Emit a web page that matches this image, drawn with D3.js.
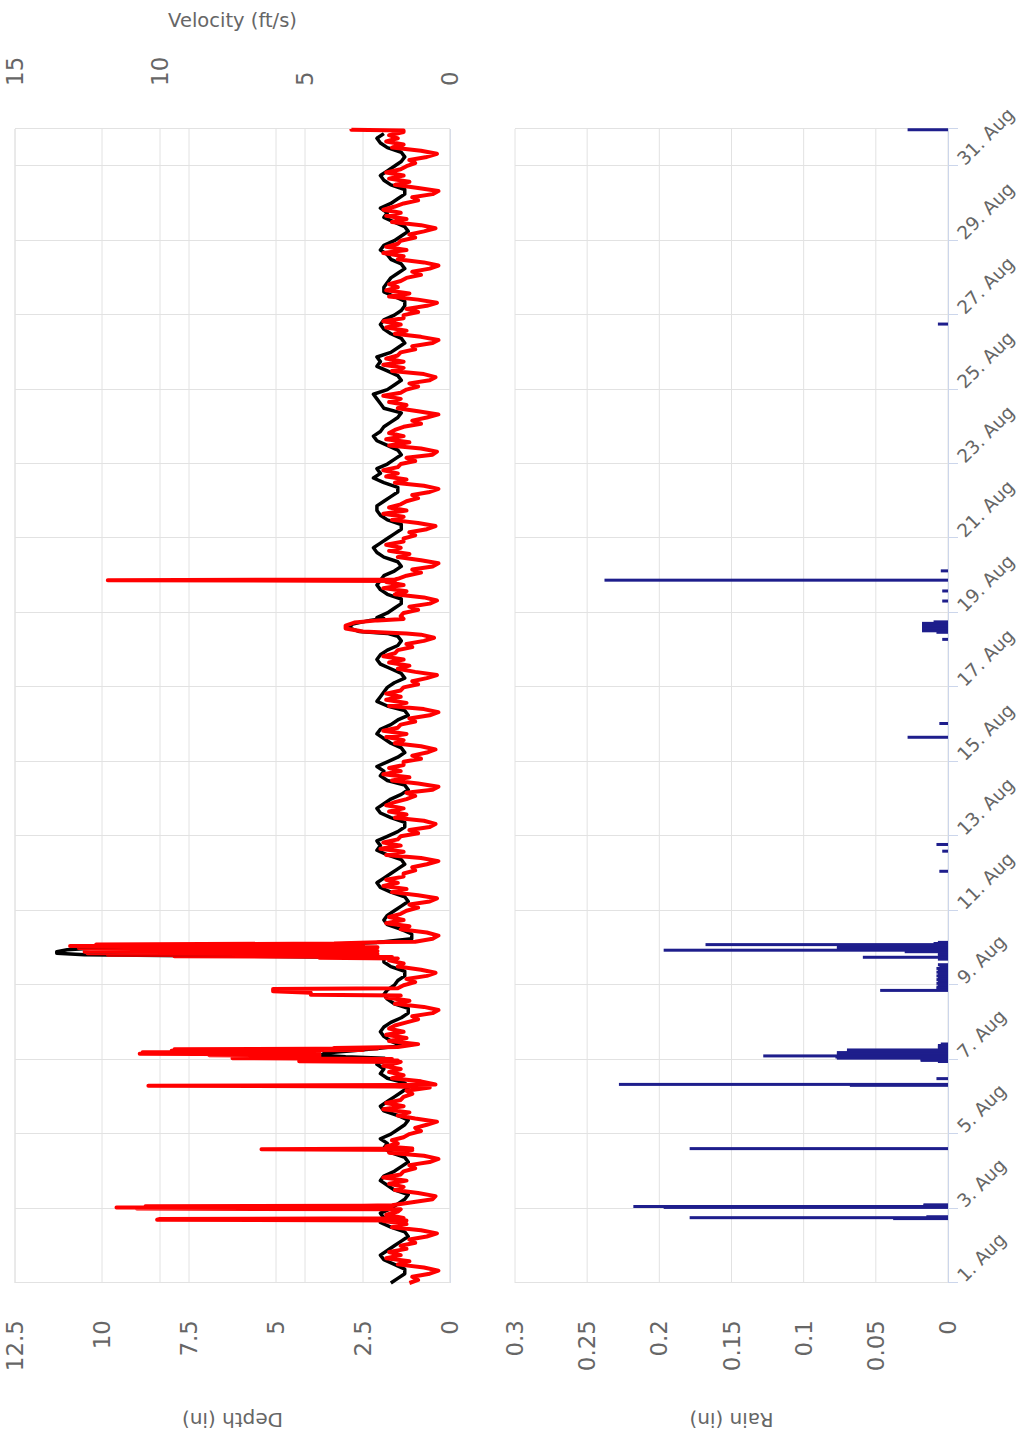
<!DOCTYPE html>
<html>
<head>
<meta charset="utf-8">
<script src="https://cdn.jsdelivr.net/npm/d3@7/dist/d3.min.js"></script>
<style>
  html, body { margin: 0; padding: 0; background: #fff; }
  svg { display: block; }
  text { font-family: "DejaVu Sans", sans-serif; fill: #666; }
</style>
</head>
<body>
<script>
// ---------------- DATA ----------------
// Time is in days since 1 Aug 00:00.
const dateTickDays = [1, 3, 5, 7, 9, 11, 13, 15, 17, 19, 21, 23, 25, 27, 29, 31];
const dateTickLabels = dateTickDays.map(d => d + ". Aug");
const depthTicks = [0, 2.5, 5, 7.5, 10, 12.5];
const velocityTicks = [0, 5, 10, 15];
const rainTicks = [0, 0.05, 0.1, 0.15, 0.2, 0.25, 0.3];
const rainTickLabels = ["0", "0.05", "0.1", "0.15", "0.2", "0.25", "0.3"];

// Depth (in), black line: 8 readings per day (every 3 h)
const depthByDay = [
  [1.7, 1.5, 1.3, 1.3, 1.6, 1.9, 2.0, 1.8],
  [1.6, 1.4, 1.2, 1.3, 1.7, 2.0, 1.9, 2.0],
  [1.7, 1.5, 1.3, 1.2, 1.6, 1.8, 2.0, 1.9],
  [1.6, 1.4, 1.2, 1.3, 1.7, 1.9, 1.8, 2.0],
  [1.7, 1.5, 1.3, 1.2, 1.5, 1.9, 2.0, 1.8],
  [1.6, 1.4, 1.2, 1.3, 1.8, 2.0, 1.9, 2.1],
  [1.8, 1.5, 1.3, 1.4, 1.7, 1.9, 2.0, 1.9],
  [1.7, 1.4, 1.2, 1.2, 1.6, 1.8, 1.9, 1.8],
  [1.6, 1.5, 1.3, 1.3, 1.7, 1.9, 2.0, 2.0],
  [1.7, 1.4, 1.1, 1.1, 1.4, 1.8, 1.9, 1.8],
  [1.6, 1.4, 1.2, 1.3, 1.7, 2.0, 2.1, 1.9],
  [1.7, 1.5, 1.3, 1.4, 1.8, 2.1, 2.0, 2.1],
  [1.8, 1.5, 1.3, 1.3, 1.7, 2.0, 2.1, 1.9],
  [1.7, 1.4, 1.2, 1.3, 1.8, 2.0, 1.9, 2.1],
  [1.8, 1.5, 1.3, 1.4, 1.7, 1.9, 2.1, 2.0],
  [1.7, 1.5, 1.2, 1.3, 1.8, 2.1, 2.0, 1.9],
  [1.8, 1.6, 1.3, 1.4, 1.7, 2.0, 2.1, 2.0],
  [1.8, 1.5, 1.4, 1.5, 1.9, 2.1, 2.0, 2.1],
  [1.8, 1.6, 1.4, 1.4, 1.8, 2.0, 2.1, 2.0],
  [1.9, 1.6, 1.4, 1.5, 1.9, 2.1, 2.2, 2.0],
  [1.8, 1.6, 1.4, 1.4, 1.8, 2.0, 2.1, 2.1],
  [1.9, 1.7, 1.5, 1.5, 1.9, 2.2, 2.0, 2.1],
  [1.8, 1.6, 1.4, 1.5, 1.8, 2.1, 2.2, 2.0],
  [1.9, 1.7, 1.5, 1.4, 1.9, 2.0, 2.1, 2.2],
  [1.8, 1.6, 1.4, 1.5, 1.8, 2.1, 2.0, 2.1],
  [1.7, 1.5, 1.3, 1.4, 1.7, 1.9, 2.0, 1.9],
  [1.6, 1.4, 1.3, 1.3, 1.6, 1.9, 1.9, 1.8],
  [1.7, 1.5, 1.3, 1.4, 1.7, 1.8, 2.0, 1.9],
  [1.6, 1.4, 1.2, 1.3, 1.6, 1.9, 1.8, 2.0],
  [1.7, 1.5, 1.3, 1.3, 1.7, 1.9, 2.0, 1.8],
  [1.6, 1.4, 1.3, 1.4, 1.8, 2.0, 2.1, 1.9]
];

// Velocity (ft/s), red line: 12 readings per day (every 2 h)
const velocityByDay = [
  [1.4, 1.1, 1.3, 0.7, 0.4, 0.9, 1.8, 1.4, 2.2, 1.7, 2.1, 1.5],
  [1.7, 1.2, 1.4, 0.8, 0.45, 1.0, 2.0, 1.5, 2.3, 1.6, 2.2, 1.8],
  [1.5, 1.0, 1.3, 0.6, 0.5, 1.1, 1.9, 1.6, 2.1, 1.5, 2.3, 1.7],
  [1.6, 1.2, 1.4, 0.7, 0.4, 0.9, 2.1, 1.5, 2.2, 1.8, 2.0, 1.6],
  [1.4, 1.0, 1.2, 0.8, 0.45, 1.2, 1.8, 1.4, 2.3, 1.6, 2.2, 1.7],
  [1.6, 1.3, 1.5, 0.7, 0.5, 1.0, 2.0, 1.6, 2.1, 1.7, 2.3, 1.8],
  [1.7, 1.2, 1.4, 0.9, 0.55, 1.1, 2.1, 1.5, 2.2, 1.6, 2.1, 1.9],
  [1.5, 1.1, 1.3, 0.6, 0.4, 0.9, 1.9, 1.4, 2.2, 1.7, 2.0, 1.6],
  [1.6, 1.2, 1.5, 0.8, 0.5, 1.0, 1.8, 1.6, 2.1, 1.5, 2.2, 1.8],
  [1.8, 1.3, 1.2, 0.6, 0.4, 0.8, 1.7, 1.4, 2.2, 1.6, 2.1, 1.7],
  [1.5, 1.1, 1.4, 0.7, 0.45, 1.1, 2.0, 1.5, 2.3, 1.8, 2.2, 1.6],
  [1.6, 1.2, 1.3, 0.8, 0.4, 1.0, 2.2, 1.6, 2.4, 1.7, 2.3, 1.8],
  [1.7, 1.1, 1.4, 0.7, 0.5, 0.9, 1.9, 1.5, 2.1, 1.6, 2.2, 1.9],
  [1.5, 1.2, 1.5, 0.6, 0.4, 1.1, 2.0, 1.4, 2.3, 1.7, 2.1, 1.6],
  [1.6, 1.0, 1.3, 0.8, 0.5, 1.0, 1.9, 1.6, 2.2, 1.5, 2.3, 1.8],
  [1.7, 1.2, 1.4, 0.7, 0.4, 0.9, 2.1, 1.5, 2.2, 1.7, 2.2, 1.7],
  [1.6, 1.1, 1.3, 0.8, 0.45, 1.2, 1.8, 1.4, 2.1, 1.6, 2.3, 1.9],
  [1.8, 1.3, 1.5, 0.9, 0.55, 1.0, 2.0, 1.6, 2.2, 1.8, 2.1, 1.7],
  [1.6, 1.1, 1.4, 0.7, 0.45, 0.9, 1.9, 1.5, 2.3, 1.6, 2.2, 1.8],
  [1.5, 1.0, 1.3, 0.6, 0.4, 1.0, 1.8, 1.4, 2.1, 1.7, 2.2, 1.6],
  [1.6, 1.2, 1.4, 0.8, 0.5, 1.1, 2.0, 1.6, 2.3, 1.5, 2.1, 1.7],
  [1.5, 1.1, 1.3, 0.7, 0.4, 0.9, 1.9, 1.5, 2.2, 1.8, 2.3, 1.8],
  [1.7, 1.2, 1.5, 0.6, 0.45, 1.0, 2.1, 1.4, 2.2, 1.6, 2.1, 1.9],
  [1.6, 1.0, 1.3, 0.8, 0.4, 1.1, 1.8, 1.5, 2.1, 1.7, 2.3, 1.7],
  [1.5, 1.1, 1.4, 0.7, 0.5, 0.9, 2.0, 1.6, 2.3, 1.6, 2.2, 1.8],
  [1.7, 1.2, 1.3, 0.6, 0.4, 1.0, 1.9, 1.5, 2.2, 1.7, 2.3, 1.6],
  [1.6, 1.1, 1.5, 0.8, 0.45, 1.1, 2.1, 1.4, 2.2, 1.8, 2.1, 1.7],
  [1.5, 1.0, 1.3, 0.7, 0.4, 0.9, 1.8, 1.6, 2.3, 1.5, 2.2, 1.8],
  [1.7, 1.2, 1.4, 0.9, 0.5, 1.0, 2.0, 1.5, 2.2, 1.7, 2.3, 1.9],
  [1.6, 1.1, 1.3, 0.6, 0.4, 1.1, 1.9, 1.4, 2.1, 1.6, 2.2, 1.7],
  [1.5, 1.2, 1.4, 0.8, 0.45, 1.0, 2.0, 1.6, 2.2, 1.8, 2.1, 1.6]
];

// Storm events: [day, value] readings that replace the baseline in their time span
const depthEvents = [
  [[6.04, 1.9], [6.08, 3.0], [6.12, 3.7], [6.18, 3.6], [6.24, 2.8], [6.3, 2.1]],
  [[8.74, 1.9], [8.78, 6.0], [8.82, 10.5], [8.86, 11.3], [8.9, 11.3], [8.95, 11.0], [9.0, 10.2], [9.05, 8.5], [9.1, 3.5], [9.15, 2.1]],
  [[17.45, 1.8], [17.5, 2.6], [17.6, 2.9], [17.7, 2.8], [17.8, 2.3], [17.85, 1.9]]
];
const velocityEvents = [
  [[1.68, 1.5], [1.7, 10.1], [1.72, 10.0], [1.74, 1.6]],
  [[1.98, 1.7], [2.0, 10.8], [2.015, 3.0], [2.03, 11.5], [2.045, 2.5], [2.06, 10.5], [2.075, 3.0], [2.09, 2.0]],
  [[3.57, 1.3], [3.59, 6.5], [3.61, 1.3]],
  [[5.28, 1.9], [5.3, 10.4], [5.32, 1.9]],
  [[5.94, 1.7], [5.96, 5.2], [5.98, 1.8], [6.0, 5.0], [6.02, 2.0], [6.04, 7.5], [6.06, 4.5], [6.08, 7.4], [6.1, 4.5],
   [6.12, 8.3], [6.14, 4.5], [6.16, 10.7], [6.18, 4.6], [6.2, 10.6], [6.22, 4.5], [6.24, 9.6], [6.26, 3.0], [6.28, 9.5],
   [6.3, 2.5], [6.31, 4.0], [6.34, 1.8]],
  [[7.72, 1.7], [7.74, 4.8], [7.8, 4.8], [7.84, 6.1], [7.9, 6.1], [7.92, 1.8]],
  [[8.72, 1.8], [8.74, 4.5], [8.76, 2.0], [8.78, 9.5], [8.8, 3.0], [8.82, 11.8], [8.84, 2.5], [8.86, 12.5], [8.88, 3.0],
   [8.9, 12.6], [8.92, 2.5], [8.95, 12.4], [8.97, 3.0], [9.0, 12.8], [9.02, 2.5], [9.05, 13.1], [9.07, 3.0], [9.09, 12.2],
   [9.12, 4.0], [9.16, 2.2]],
  [[17.45, 1.5], [17.5, 3.0], [17.58, 3.6], [17.66, 3.6], [17.74, 3.3], [17.8, 2.5], [17.84, 1.6]],
  [[18.86, 1.9], [18.88, 11.8], [18.9, 1.9]],
  [[30.96, 1.6], [30.98, 3.4], [31.0, 3.4]]
];

// Rain (in): [day, value]
const rain = [
  [1.73, 0.038], [1.755, 0.179], [1.78, 0.015],
  [2.03, 0.197], [2.055, 0.218], [2.08, 0.017], [2.1, 0.017],
  [3.61, 0.179],
  [5.31, 0.068], [5.335, 0.228], [5.49, 0.008],
  [5.95, 0.007], [5.98, 0.019], [6.01, 0.019], [6.04, 0.077], [6.07, 0.078], [6.1, 0.128], [6.13, 0.077],
  [6.16, 0.076], [6.19, 0.077], [6.22, 0.07], [6.26, 0.07], [6.3, 0.007], [6.34, 0.007], [6.38, 0.007], [6.42, 0.005],
  [7.86, 0.047], [7.9, 0.008], [7.95, 0.008], [8.0, 0.007], [8.05, 0.008], [8.1, 0.007], [8.15, 0.008],
  [8.2, 0.007], [8.25, 0.008], [8.3, 0.007], [8.35, 0.008], [8.4, 0.007], [8.45, 0.008], [8.5, 0.006], [8.55, 0.007],
  [8.7, 0.007], [8.75, 0.059], [8.8, 0.007], [8.85, 0.007], [8.9, 0.03], [8.94, 0.197], [8.97, 0.077],
  [9.0, 0.076], [9.03, 0.077], [9.06, 0.075], [9.09, 0.168], [9.12, 0.01], [9.15, 0.007],
  [11.06, 0.006], [11.6, 0.004], [11.78, 0.008],
  [14.66, 0.028], [15.03, 0.006],
  [17.29, 0.004], [17.48, 0.008], [17.52, 0.018], [17.56, 0.018], [17.6, 0.018], [17.64, 0.018],
  [17.68, 0.018], [17.72, 0.018], [17.76, 0.01],
  [18.32, 0.004], [18.59, 0.004], [18.88, 0.238], [19.13, 0.005],
  [25.76, 0.007],
  [30.98, 0.028]
];

// ---------------- BUILD ----------------
const T0 = Date.UTC(2019, 7, 1);
const toDate = t => new Date(T0 + t * 864e5);

function buildSeries(byDay, events) {
  const base = [];
  byDay.forEach((day, di) => day.forEach((v, k) => base.push([di + k / day.length, v])));
  const kept = base.filter(([t]) => !events.some(ev => t >= ev[0][0] && t <= ev[ev.length - 1][0]));
  return kept.concat(...events).sort((a, b) => a[0] - b[0]);
}
const depthSeries = buildSeries(depthByDay, depthEvents);
const velocitySeries = buildSeries(velocityByDay, velocityEvents);

// Original (landscape) chart is 1437 x 1022, rotated 90 deg CCW into the page.
const W = 1437, H = 1022;
const svg = d3.select("body").append("svg").attr("width", H).attr("height", W);
svg.append("rect").attr("width", H).attr("height", W).attr("fill", "#fff");
const g = svg.append("g").attr("transform", `translate(0,${W}) rotate(-90)`);

const x = d3.scaleUtc().domain([toDate(0), toDate(31)]).range([154, 1308]);
const yDepth = d3.scaleLinear().domain([0, 12.5]).range([450, 15]);
const yVel = d3.scaleLinear().domain([0, 15]).range([450, 15]);
const yRain = d3.scaleLinear().domain([0, 0.3]).range([948, 515]);

const gridColor = "#e2e2e2";
const grid = g.append("g");
[...velocityTicks.map(v => yVel(v)), ...depthTicks.map(v => yDepth(v)), ...rainTicks.map(v => yRain(v))]
  .forEach(yy => grid.append("line").attr("x1", x.range()[0]).attr("x2", x.range()[1])
    .attr("y1", yy).attr("y2", yy).attr("stroke", gridColor).attr("stroke-width", 1));
const dateGridDates = dateTickDays.map(d => toDate(d - 1)).concat([toDate(31)]);
dateGridDates.forEach(dt => {
  const xx = Math.round(x(dt)) + 0.5;
  [[yDepth(12.5), yDepth(0)], [yRain(0.3), yRain(0)]].forEach(([a, b]) =>
    grid.append("line").attr("x1", xx).attr("x2", xx).attr("y1", a).attr("y2", b)
      .attr("stroke", gridColor).attr("stroke-width", 1));
  grid.append("line").attr("x1", xx).attr("x2", xx).attr("y1", yRain(0)).attr("y2", yRain(0) + 10)
    .attr("stroke", "#ccd6eb").attr("stroke-width", 1);
});
g.append("line").attr("x1", x.range()[0]).attr("x2", x.range()[1]).attr("y1", yRain(0) + 0.5).attr("y2", yRain(0) + 0.5)
  .attr("stroke", "#ccd6eb").attr("stroke-width", 1);
g.append("line").attr("x1", x.range()[0]).attr("x2", x.range()[1]).attr("y1", yDepth(0) + 0.5).attr("y2", yDepth(0) + 0.5)
  .attr("stroke", "#d8dde8").attr("stroke-width", 1);

// rain columns
g.append("g").selectAll("rect").data(rain).join("rect")
  .attr("x", d => x(toDate(d[0])) - 1.5)
  .attr("width", 3)
  .attr("y", d => yRain(d[1]))
  .attr("height", d => yRain(0) - yRain(d[1]))
  .attr("fill", "#1e1e8c");

// lines
const depthLine = d3.line().x(d => x(toDate(d[0]))).y(d => yDepth(d[1]));
const velLine = d3.line().x(d => x(toDate(d[0]))).y(d => yVel(d[1]));
g.append("path").datum(depthSeries).attr("d", depthLine)
  .attr("fill", "none").attr("stroke", "#000").attr("stroke-width", 3.5).attr("stroke-linejoin", "round");
g.append("path").datum(velocitySeries).attr("d", velLine)
  .attr("fill", "none").attr("stroke", "#ff0000").attr("stroke-width", 4).attr("stroke-linejoin", "round");

// axis labels
const tickFont = 23;
depthTicks.forEach(v => g.append("text").attr("x", 117).attr("y", yDepth(v))
  .attr("text-anchor", "end").attr("dominant-baseline", "central").style("font-size", tickFont + "px").text(String(v)));
rainTicks.forEach((v, i) => g.append("text").attr("x", 117).attr("y", yRain(v))
  .attr("text-anchor", "end").attr("dominant-baseline", "central").style("font-size", tickFont + "px").text(rainTickLabels[i]));
velocityTicks.forEach(v => g.append("text").attr("x", 1351).attr("y", yVel(v))
  .attr("text-anchor", "start").attr("dominant-baseline", "central").style("font-size", tickFont + "px").text(String(v)));

dateTickDays.forEach((d, i) => {
  const xx = x(toDate(d - 1));
  g.append("text").attr("transform", `translate(${xx},965) rotate(45)`)
    .attr("text-anchor", "start").style("font-size", "18.5px").text(dateTickLabels[i]);
});

// titles
g.append("text").attr("transform", `translate(17,${(yDepth(0) + yDepth(12.5)) / 2}) rotate(-90)`)
  .attr("text-anchor", "middle").attr("dominant-baseline", "central").style("font-size", "20px").text("Depth (in)");
g.append("text").attr("transform", `translate(17,${(yRain(0) + yRain(0.3)) / 2}) rotate(-90)`)
  .attr("text-anchor", "middle").attr("dominant-baseline", "central").style("font-size", "20px").text("Rain (in)");
g.append("text").attr("transform", `translate(1417,${(yVel(0) + yVel(15)) / 2}) rotate(90)`)
  .attr("text-anchor", "middle").attr("dominant-baseline", "central").style("font-size", "19.5px").text("Velocity (ft/s)");
</script>
</body>
</html>
